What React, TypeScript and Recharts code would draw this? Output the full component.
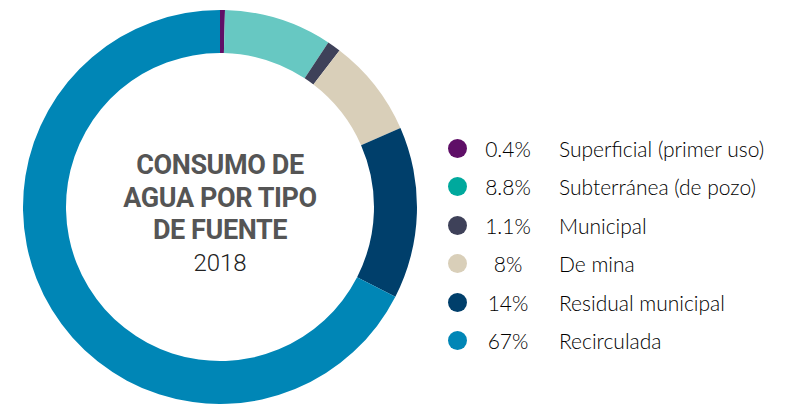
import { PieChart, Pie, Cell, Legend } from 'recharts';

const fuentes = ['Superficial (primer uso)', 'Subterránea (de pozo)', 'Municipal', 'De mina', 'Residual municipal', 'Recirculada'];
const porcentajes = [0.4, 8.8, 1.1, 8, 14, 67];
const etiquetas = ['0.4%', '8.8%', '1.1%', '8%', '14%', '67%'];
const coloresSector = ['#5F0F67', '#67C8C2', '#3E4159', '#D9CFB9', '#003F6B', '#0086B6'];
const coloresLeyenda = ['#5F0F67', '#00A99D', '#3E4159', '#D9CFB9', '#003F6B', '#0086B6'];

const data = fuentes.map((name, i) => ({ name, value: porcentajes[i] }));

function Leyenda() {
  return (
    <div style={{ fontFamily: 'Lato, "Noto Sans", sans-serif', fontWeight: 300, color: '#000', fontSize: 21 }}>
      {fuentes.map((f, i) => (
        <div key={f} style={{ display: 'flex', alignItems: 'center', height: 38.5 }}>
          <span style={{ width: 19, height: 19, borderRadius: '50%', background: coloresLeyenda[i], display: 'inline-block' }} />
          <span style={{ width: 82, textAlign: 'center' }}>{etiquetas[i]}</span>
          <span style={{ marginLeft: 10, whiteSpace: 'nowrap' }}>{f}</span>
        </div>
      ))}
    </div>
  );
}

export default function App() {
  return (
    <div style={{ position: 'fixed', left: 0, top: 0, width: 790, height: 404, background: '#fff' }}>
      <PieChart width={790} height={404} margin={{ top: 0, right: 0, bottom: 0, left: 0 }}>
        <Pie
          data={data}
          dataKey="value"
          cx={220}
          cy={207}
          innerRadius={154}
          outerRadius={197}
          startAngle={90}
          endAngle={-270}
          stroke="none"
          isAnimationActive={false}
        >
          {data.map((d, i) => (
            <Cell key={d.name} fill={coloresSector[i]} />
          ))}
        </Pie>
        <Legend content={() => <Leyenda />} wrapperStyle={{ left: 448, top: 129, width: 342 }} />
      </PieChart>
      <div
        style={{
          position: 'absolute',
          left: 70,
          top: 149,
          width: 300,
          textAlign: 'center',
          fontFamily: 'Roboto, "Noto Sans", sans-serif',
          color: '#555',
        }}
      >
        <div style={{ fontWeight: 700, fontSize: 27, lineHeight: '32.5px', letterSpacing: -0.4 }}>
          CONSUMO DE
          <br />
          AGUA POR TIPO
          <br />
          DE FUENTE
        </div>
        <div style={{ fontSize: 24, lineHeight: '32px', color: '#222', fontWeight: 300 }}>2018</div>
      </div>
    </div>
  );
}
